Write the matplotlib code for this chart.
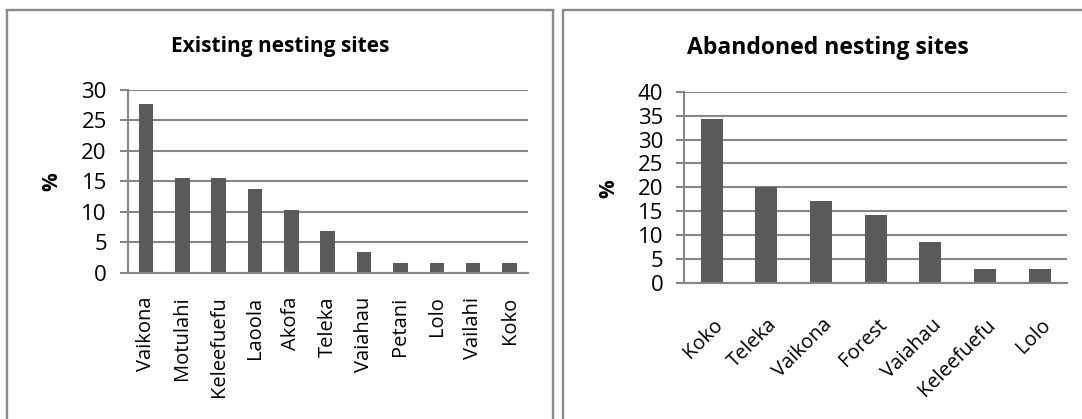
import matplotlib
matplotlib.use("Agg")
import matplotlib.pyplot as plt
import matplotlib.transforms as mtransforms
from matplotlib.patches import Rectangle
import numpy as np

plt.rcParams['font.family'] = ['Open Sans', 'DejaVu Sans']

# existing nesting sites (% of sites)
existing_sites = ['Vaikona', 'Motulahi', 'Keleefuefu', 'Laoola', 'Akofa', 'Teleka',
                  'Vaiahau', 'Petani', 'Lolo', 'Vailahi', 'Koko']
existing_pct = [27.6, 15.5, 15.5, 13.8, 10.3, 6.9, 3.4, 1.7, 1.7, 1.7, 1.7]

# abandoned nesting sites (% of sites)
abandoned_sites = ['Koko', 'Teleka', 'Vaikona', 'Forest', 'Vaiahau', 'Keleefuefu', 'Lolo']
abandoned_pct = [34.3, 20.0, 17.1, 14.3, 8.6, 2.9, 2.9]

W, H = 1082, 419
bar_color = '#5a5a5a'
grid_color = '#868686'
frame_color = '#8a8a8a'
tick_size = 16
cat_size = 14.5

fig = plt.figure(figsize=(W / 100, H / 100), dpi=100)


def px_rect(x0, top, x1, bottom):
    return [x0 / W, (H - bottom) / H, (x1 - x0) / W, (bottom - top) / H]


def style_axes(ax, ymax):
    ax.set_ylim(0, ymax)
    ax.set_yticks(np.arange(0, ymax + 1, 5))
    ax.set_axisbelow(True)
    ax.yaxis.grid(True, color=grid_color, linewidth=1.5)
    for side in ['top', 'right']:
        ax.spines[side].set_visible(False)
    for side in ['left', 'bottom']:
        ax.spines[side].set_color(grid_color)
        ax.spines[side].set_linewidth(1.5)
    ax.tick_params(axis='y', direction='out', length=5.5, width=1.5,
                   color=grid_color, labelsize=tick_size, pad=9.5)
    ax.tick_params(axis='x', length=0)


# left chart
ax1 = fig.add_axes(px_rect(127.7, 89.5, 527.7, 273))
x1 = np.arange(len(existing_sites))
ax1.bar(x1, existing_pct, width=0.4, color=bar_color)
ax1.set_xlim(-0.5, len(existing_sites) - 0.5)
style_axes(ax1, 30)
ax1.set_xticks(x1)
ax1.set_xticklabels(existing_sites, rotation=90, ha='center', va='top', fontsize=cat_size)
ax1.tick_params(axis='x', pad=17)

# right chart
ax2 = fig.add_axes(px_rect(684.3, 91.7, 1067, 283))
x2 = np.arange(len(abandoned_sites))
ax2.bar(x2, abandoned_pct, width=0.4, color=bar_color)
ax2.set_xlim(-0.5, len(abandoned_sites) - 0.5)
style_axes(ax2, 40)
ax2.set_xticks(x2)
ax2.set_xticklabels(abandoned_sites, rotation=45, ha='right', va='top',
                    rotation_mode='anchor', fontsize=cat_size)
ax2.tick_params(axis='x', pad=23)
shift = mtransforms.ScaledTranslation(1 / 100, 0, fig.dpi_scale_trans)
for lbl in ax2.get_xticklabels():
    lbl.set_transform(lbl.get_transform() + shift)

# titles and y labels
fig.text(280 / W, (H - 51.7) / H, 'Existing nesting sites', ha='center', va='baseline',
         fontsize=15, fontweight='bold')
fig.text(828 / W, (H - 54) / H, 'Abandoned nesting sites', ha='center', va='baseline',
         fontsize=16.6, fontweight='bold')
fig.text(52 / W, (H - 181.5) / H, '%', rotation=90, ha='center', va='center',
         fontsize=15, fontweight='bold')
fig.text(608.5 / W, (H - 188.5) / H, '%', rotation=90, ha='center', va='center',
         fontsize=15, fontweight='bold')

# chart frames
for x0, x1_ in [(6.7, 552.7), (563.3, 1110)]:
    fig.add_artist(Rectangle((x0 / W, -0.1), (x1_ - x0) / W, 0.1 + (H - 10.3) / H,
                             transform=fig.transFigure, fill=False,
                             edgecolor=frame_color, linewidth=1.7))

fig.savefig('out.png', dpi=100)
